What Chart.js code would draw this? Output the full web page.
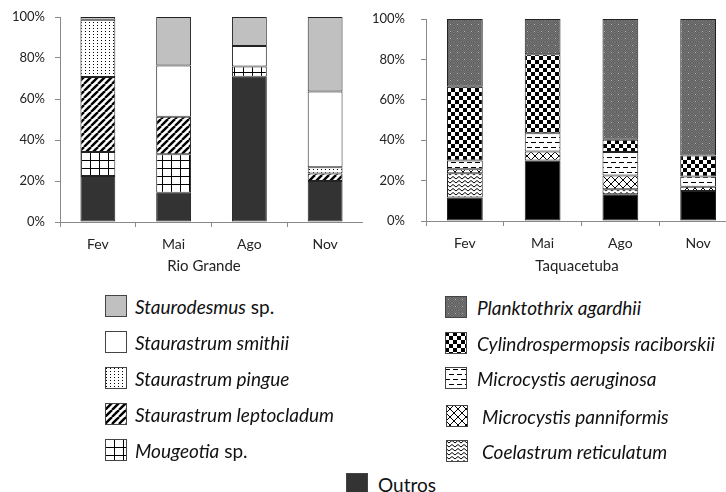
<!DOCTYPE html>
<html>
<head>
<meta charset="utf-8">
<script src="https://cdn.jsdelivr.net/npm/chart.js@4"></script>
<style>
body{margin:0;width:726px;height:492px;overflow:hidden;background:#fff;font-family:Lato,sans-serif;position:relative}
#c1{position:absolute;left:0;top:0}
#c2{position:absolute;left:363px;top:0}
.ttl{position:absolute;font-size:15px;color:#222;white-space:nowrap;text-align:center;width:160px}
.lg{position:absolute;display:flex;align-items:center;font-size:19px;color:#111;white-space:nowrap;height:22px}
.lg canvas{display:block}
</style>
</head>
<body>
<canvas id="c1" width="363" height="260"></canvas>
<canvas id="c2" width="374" height="260"></canvas>
<div class="ttl" style="left:124px;top:256px">Rio Grande</div>
<div class="ttl" style="left:497px;top:256px">Taquacetuba</div>
<div id="legend"></div>
<script>
// months
var months = ['Fev', 'Mai', 'Ago', 'Nov']

// Rio Grande (%), bottom to top
var rioOutros = [22.4, 14.3, 70.9, 20.0]
var rioMougeotia = [11.7, 18.7, 4.9, 0]
var rioLeptocladum = [36.6, 18.4, 0, 3.6]
var rioPingue = [27.9, 0, 0, 3.1]
var rioSmithii = [0, 25.0, 10.1, 36.9]
var rioStaurodesmus = [1.4, 23.6, 14.1, 36.4]

// Taquacetuba (%), bottom to top
var taqOutros = [11.6, 29.9, 13.2, 14.9]
var taqCoelastrum = [12.0, 0, 2.5, 0]
var taqPanniformis = [2.0, 4.5, 6.8, 2.1]
var taqAeruginosa = [4.4, 9.1, 11.6, 5.0]
var taqCylindro = [36.5, 39.1, 6.1, 10.4]
var taqPlanktothrix = [33.5, 17.4, 59.8, 67.6]

// pattern tiles
function pat(w, h, bg, draw){
	var c = document.createElement('canvas')
	c.width = w; c.height = h
	var x = c.getContext('2d')
	x.fillStyle = bg
	x.fillRect(0, 0, w, h)
	if(draw) draw(x)
	return x.createPattern(c, 'repeat')
}

var fills = {
	staurodesmus: '#c0c0c0',
	smithii: '#ffffff',
	pingue: pat(4, 3, '#fff', function(x){ x.fillStyle = '#000'; x.fillRect(1, 1, 1, 1) }),
	lepto: pat(7, 7, '#fff', function(x){
		x.strokeStyle = '#000'; x.lineWidth = 2.4
		for(var k = -1; k <= 1; k++){
			x.beginPath(); x.moveTo(k*7, 7); x.lineTo(k*7 + 7, 0); x.stroke()
		}
	}),
	mougeotia: pat(9, 8, '#fff', function(x){ x.fillStyle = '#000'; x.fillRect(0, 0, 9, 1); x.fillRect(0, 0, 1, 8) }),
	rioOutros: '#333333',
	plank: pat(7, 7, '#606060', function(x){
		x.fillStyle = '#747474'
		for(var i = 0; i < 7; i++) for(var j = 0; j < 7; j++) if((i + j) % 2 == 0) x.fillRect(i, j, 1, 1)
		x.fillStyle = '#b5b5b5'; x.fillRect(3, 3, 1, 1)
	}),
	cylindro: pat(8, 8, '#fff', function(x){ x.fillStyle = '#000'; x.fillRect(0, 0, 4, 4); x.fillRect(4, 4, 4, 4) }),
	aeruginosa: pat(8, 10, '#fff', function(x){
		x.fillStyle = '#000'
		x.fillRect(0, 2, 5, 1)
		x.fillRect(4, 7, 4, 1); x.fillRect(0, 7, 1, 1)
	}),
	panniformis: pat(8, 8, '#fff', function(x){
		x.strokeStyle = '#000'; x.lineWidth = 1
		x.beginPath(); x.moveTo(0, 0); x.lineTo(8, 8); x.moveTo(8, 0); x.lineTo(0, 8); x.stroke()
	}),
	coelastrum: pat(6, 4, '#fff', function(x){
		x.strokeStyle = '#000'; x.lineWidth = 1
		x.beginPath(); x.moveTo(0, 0.5); x.lineTo(3, 3); x.lineTo(6, 0.5); x.stroke()
	}),
	taqOutros: '#000000'
}

function ds(label, data, fill){
	return {label: label, data: data, backgroundColor: fill, borderColor: '#222', borderWidth: 1,
		borderSkipped: false, barPercentage: 0.46, categoryPercentage: 1.0}
}

function opts(top, bottom, yWidth, yPad){
	return {
		responsive: false,
		animation: false,
		layout: {padding: {top: top, left: 0, right: 0, bottom: 0}},
		plugins: {legend: {display: false}, tooltip: {enabled: false}},
		scales: {
			x: {
				stacked: true,
				grid: {drawOnChartArea: false, tickLength: 5, color: '#8a8a8a', offset: true},
				border: {color: '#8a8a8a'},
				ticks: {font: {family: 'Lato', size: 14}, color: '#222', padding: 9},
				afterFit: function(s){ s.height = 260 - bottom }
			},
			y: {
				stacked: true, min: 0, max: 100,
				grid: {drawOnChartArea: false, tickLength: 5, color: '#8a8a8a'},
				border: {color: '#8a8a8a'},
				ticks: {stepSize: 20, font: {family: 'Lato', size: 13}, color: '#222', padding: yPad,
					callback: function(v){ return v + '%' }},
				afterFit: function(s){ s.width = yWidth; s.paddingTop = 0; s.paddingBottom = 0 }
			}
		}
	}
}

new Chart(document.getElementById('c1'), {
	type: 'bar',
	data: {
		labels: months,
		datasets: [
			ds('Outros', rioOutros, fills.rioOutros),
			ds('Mougeotia sp.', rioMougeotia, fills.mougeotia),
			ds('Staurastrum leptocladum', rioLeptocladum, fills.lepto),
			ds('Staurastrum pingue', rioPingue, fills.pingue),
			ds('Staurastrum smithii', rioSmithii, fills.smithii),
			ds('Staurodesmus sp.', rioStaurodesmus, fills.staurodesmus)
		]
	},
	options: opts(17, 222, 60, 10)
})

new Chart(document.getElementById('c2'), {
	type: 'bar',
	data: {
		labels: months,
		datasets: [
			ds('Outros', taqOutros, fills.taqOutros),
			ds('Coelastrum reticulatum', taqCoelastrum, fills.coelastrum),
			ds('Microcystis panniformis', taqPanniformis, fills.panniformis),
			ds('Microcystis aeruginosa', taqAeruginosa, fills.aeruginosa),
			ds('Cylindrospermopsis raciborskii', taqCylindro, fills.cylindro),
			ds('Planktothrix agardhii', taqPlanktothrix, fills.plank)
		]
	},
	options: opts(19, 221, 63, 16)
})

// legend
var legendItems = [
	['Staurodesmus sp.', fills.staurodesmus, 105, 306, 8],
	['Staurastrum smithii', fills.smithii, 105, 342, 8],
	['Staurastrum pingue', fills.pingue, 105, 378, 8],
	['Staurastrum leptocladum', fills.lepto, 105, 414, 8],
	['Mougeotia sp.', fills.mougeotia, 105, 450, 8],
	['Planktothrix agardhii', fills.plank, 445, 307, 10],
	['Cylindrospermopsis raciborskii', fills.cylindro, 445, 343, 10],
	['Microcystis aeruginosa', fills.aeruginosa, 445, 378, 10],
	['Microcystis panniformis', fills.panniformis, 446, 416, 14],
	['Coelastrum reticulatum', fills.coelastrum, 446, 451, 14],
	['Outros', fills.rioOutros, 346, 484, 10]
]

var box = document.getElementById('legend')
legendItems.forEach(function(it){
	var d = document.createElement('div')
	d.className = 'lg'
	d.style.left = it[2] + 'px'
	d.style.top = (it[3] - 11) + 'px'
	var sw = document.createElement('canvas')
	sw.width = 22; sw.height = 22
	var g = sw.getContext('2d')
	g.fillStyle = it[1]
	g.fillRect(0, 0, 22, 22)
	g.strokeStyle = '#444'
	g.strokeRect(0.5, 0.5, 21, 21)
	d.appendChild(sw)
	var t = document.createElement('span')
	t.style.marginLeft = it[4] + 'px'
	var name = it[0]
	if(name == 'Outros'){
		t.textContent = name
	} else if(/ sp\.$/.test(name)){
		t.innerHTML = '<i>' + name.replace(/ sp\.$/, '') + '</i> sp.'
	} else {
		t.innerHTML = '<i>' + name + '</i>'
	}
	d.appendChild(t)
	box.appendChild(d)
})
</script>
</body>
</html>
